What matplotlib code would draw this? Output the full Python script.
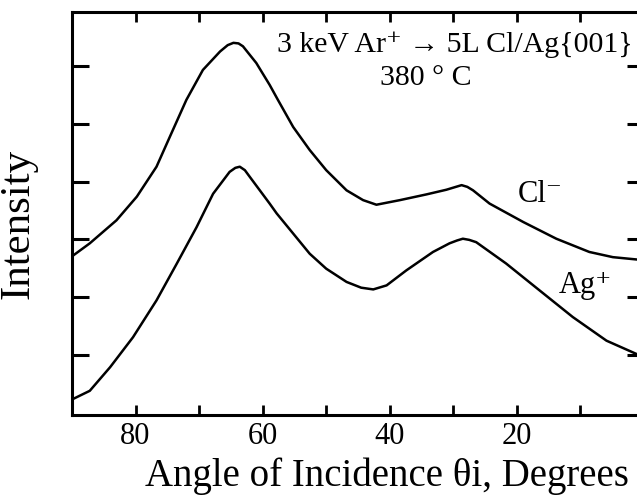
import numpy as np
import matplotlib
matplotlib.use("Agg")
import matplotlib.pyplot as plt

# angle of incidence (deg) and intensity
cl_angle = [89.8, 87.2, 83.0, 79.8, 76.7, 74.6, 72.0, 69.4, 66.7, 65.5, 64.6, 63.8, 63.1, 61.0,
            58.9, 57.6, 55.2, 52.6, 50.0, 46.8, 44.2, 42.1, 38.4, 34.2, 31.1, 29.6, 28.7,
            27.8, 26.9, 24.3, 19.0, 13.8, 8.6, 4.9, 1.2]
cl_int = [2.72, 2.93, 3.33, 3.74, 4.26, 4.78, 5.42, 5.94, 6.26, 6.37, 6.41, 6.40, 6.35, 6.06,
          5.68, 5.42, 4.95, 4.55, 4.20, 3.85, 3.68, 3.60, 3.68, 3.78, 3.86, 3.91, 3.94,
          3.91, 3.85, 3.62, 3.30, 3.01, 2.78, 2.69, 2.65]

ag_angle = [89.8, 87.2, 84.0, 80.4, 76.7, 73.5, 70.4, 67.8, 65.2, 64.3, 63.6, 62.8, 62.0, 58.9,
            57.8, 55.2, 52.6, 50.0, 46.8, 44.5, 42.6, 40.5, 37.4, 33.2, 30.6, 29.4, 28.5,
            27.5, 26.4, 21.7, 16.4, 11.2, 5.9, 1.2]
ag_int = [0.23, 0.37, 0.78, 1.30, 1.94, 2.58, 3.21, 3.79, 4.17, 4.24, 4.26, 4.20, 4.08, 3.62,
          3.45, 3.10, 2.75, 2.49, 2.26, 2.16, 2.13, 2.20, 2.46, 2.78, 2.93, 2.98, 3.01,
          2.99, 2.95, 2.58, 2.11, 1.65, 1.24, 1.01]

xticks = [80, 60, 40, 20]
xminor = [90, 70, 50, 30, 10]
yticks = [1, 2, 3, 4, 5, 6]

serif = ['Liberation Serif', 'DejaVu Serif']
plt.rcParams['font.family'] = serif

fig = plt.figure(figsize=(6.37, 4.95), dpi=100)
ax = fig.add_axes([0.113, 0.1616, 0.898, 0.8147])

ax.plot(cl_angle, cl_int, color='black', lw=1.8)
ax.plot(ag_angle, ag_int, color='black', lw=1.8)

ax.set_xlim(90, 0)
ax.set_ylim(-0.05, 6.95)

ax.set_xticks(xticks)
ax.set_xticks(xminor, minor=True)
ax.set_yticks(yticks)
ax.tick_params(axis='x', which='both', direction='in', top=True, bottom=True,
               length=7, width=2, labelsize=22, pad=5)
ax.tick_params(axis='y', direction='in', left=True, right=True,
               length=12, width=2.2, labelleft=False)
for s in ax.spines.values():
    s.set_linewidth(2.2)

ax.set_xlabel('Angle of Incidence θi, Degrees', fontsize=28)
ax.xaxis.set_label_coords(0.55, -0.105)
ax.set_ylabel('Intensity', fontsize=31)
ax.yaxis.set_label_coords(-0.06, 0.474)

ax.text(57.8, 6.25, '3 keV Ar⁺ → 5L Cl/Ag{001}', fontsize=21.5, ha='left', va='baseline')
ax.text(34.4, 5.8, '380 ° C', fontsize=21.5, ha='center', va='center')
ax.text(16.3, 3.78, 'Cl⁻', fontsize=22, ha='center', va='center')
ax.text(9.2, 2.2, 'Ag⁺', fontsize=22, ha='center', va='center')

fig.savefig('out.png', dpi=100)
